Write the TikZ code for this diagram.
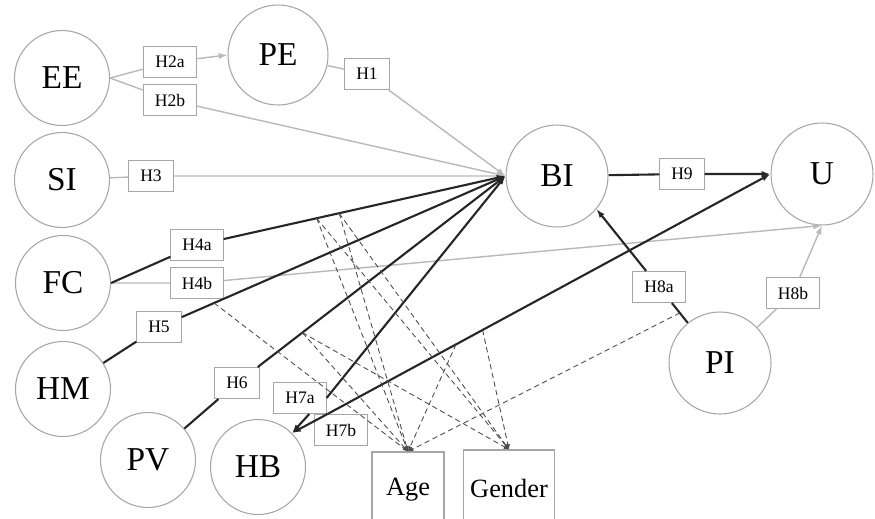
\documentclass[tikz,border=0pt]{standalone}
\usepackage{fontspec}
\setmainfont{Liberation Serif}
\usetikzlibrary{arrows.meta}

\begin{document}
\begin{tikzpicture}[x=0.02cm, y=-0.02cm, >={Latex[length=5pt,width=3.5pt]},
    construct/.style={draw=gray!70, circle, line width=0.6pt, minimum size=1.9cm, inner sep=0pt, font=\fontsize{19}{21}\selectfont},
    hyp/.style={draw=gray!70, rectangle, fill=white, line width=0.6pt, minimum height=0.62cm, inner xsep=6.5pt, font=\fontsize{10}{11}\selectfont},
    moderator/.style={draw=gray!70, rectangle, line width=0.6pt, minimum width=1.44cm, minimum height=1.52cm, inner xsep=4pt, font=\fontsize{15}{17}\selectfont},
    strong/.style={draw=black!85, line width=1.2pt, ->},
    weak/.style={draw=gray!55, line width=0.8pt, ->},
    moderation/.style={draw=gray!60!black, line width=0.5pt, densely dashed, -{Latex[length=3pt,width=2.5pt]}}]

    \useasboundingbox (0,0) rectangle (875,518);
    \clip (0,0) rectangle (875,518);

    % constructs
    \node[construct] (EE) at (62,78) {EE};
    \node[construct, minimum size=2cm] (PE) at (278,55) {PE};
    \node[construct] (SI) at (62,180) {SI};
    \node[construct] (FC) at (63,283) {FC};
    \node[construct] (HM) at (63,389) {HM};
    \node[construct] (PV) at (148,460) {PV};
    \node[construct] (HB) at (258,467) {HB};
    \node[construct, minimum size=2.04cm] (BI) at (557,176) {BI};
    \node[construct, minimum size=2.04cm] (U) at (822,174) {U};
    \node[construct, minimum size=2.04cm] (PI) at (720,363) {PI};

    % moderators
    \node[moderator] (Age) at (408,490) {Age};
    \node[moderator] (Gender) at (509,488) {Gender};

    % hypotheses
    \node[hyp] (H2a) at (170,62) {H2a};
    \node[hyp] (H2b) at (170,100) {H2b};
    \node[hyp] (H1) at (367,74) {H1};
    \node[hyp] (H3) at (151,176) {H3};
    \node[hyp] (H4a) at (197,245) {H4a};
    \node[hyp] (H4b) at (197,283) {H4b};
    \node[hyp] (H5) at (159,327) {H5};
    \node[hyp] (H6) at (237,383) {H6};
    \node[hyp] (H7a) at (300,398) {H7a};
    \node[hyp] (H7b) at (341,430) {H7b};
    \node[hyp] (H8a) at (659,287) {H8a};
    \node[hyp] (H8b) at (793,293) {H8b};
    \node[hyp] (H9) at (682,174) {H9};

    % paths
    \draw[weak] (EE.east) -- (H2a) -- (PE.west);
    \draw[weak] (EE.east) -- (H2b) -- (BI.west);
    \draw[weak] (PE) -- (H1) -- (BI.west);
    \draw[weak] (SI) -- (H3) -- (BI.west);
    \draw[weak] (FC.east) -- (H4b) -- (U.south);
    \draw[weak] (PI) -- (H8b) -- (U.south);

    \draw[strong] (FC.east) -- (H4a) -- coordinate[pos=0.33] (m1) coordinate[pos=0.41] (m2) (BI.west);
    \draw[strong] (HM) -- (H5) -- coordinate[pos=0.1] (m3) (BI.west);
    \draw[strong] (PV) -- (H6) -- coordinate[pos=0.18] (m4) (BI.west);
    \draw[strong] (H7a.east) -- (BI.west);
    \draw[strong] (H7a.-60) -- (HB.45);
    \draw[strong] (H7b.130) -- coordinate[pos=0.29] (m5) coordinate[pos=0.35] (m6) (U.west);
    \draw[strong] (H7b.130) -- (HB.45);
    \draw[strong] (BI) -- (H9) -- (U.west);
    \draw[strong] (PI) -- coordinate[pos=0.5] (m7) (H8a) -- (BI.-40);

    % moderating effects
    \foreach \m/\t in {m1/Age, m1/Gender, m2/Age, m2/Gender, m3/Age, m4/Age, m4/Gender, m5/Age, m6/Gender, m7/Age}
        \draw[moderation] (\m) -- (\t.north);
\end{tikzpicture}
\end{document}
